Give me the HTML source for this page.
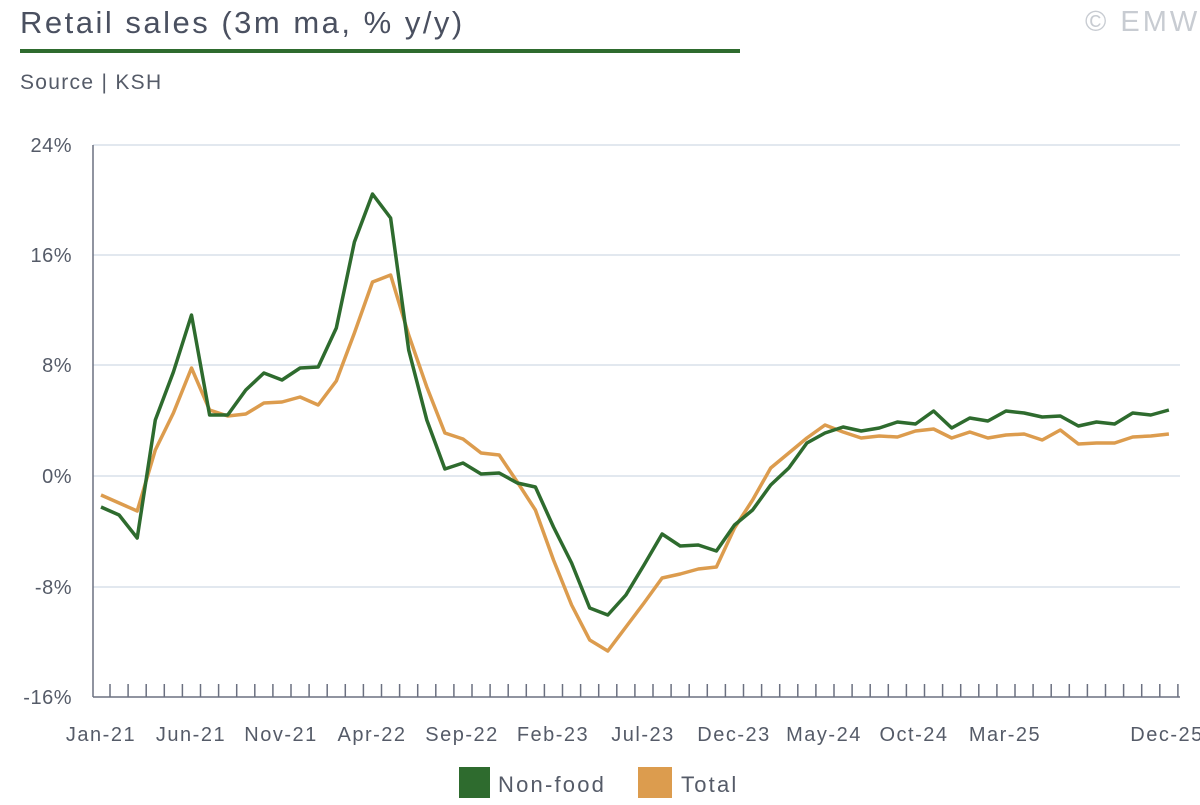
<!DOCTYPE html>
<html><head><meta charset="utf-8"><style>
body{margin:0;background:#fff;width:1200px;height:800px;overflow:hidden;font-family:"Liberation Sans",sans-serif;}
</style></head><body>
<svg width="1200" height="800" xmlns="http://www.w3.org/2000/svg" font-family="Liberation Sans, sans-serif">
<text x="20" y="33" font-size="31" fill="#4a5060" letter-spacing="2.5">Retail sales (3m ma, % y/y)</text>
<text x="1085" y="31" font-size="29" fill="#c8ccd2" letter-spacing="3">© EMW</text>
<rect x="20" y="49" width="720" height="4" fill="#2e6b2e"/>
<text x="20" y="89" font-size="21" fill="#555b68" letter-spacing="1.3">Source | KSH</text>
<g stroke="#d8e0ea" stroke-width="1.5">
<line x1="93" x2="1180" y1="145" y2="145"/><line x1="93" x2="1180" y1="255" y2="255"/>
<line x1="93" x2="1180" y1="365" y2="365"/><line x1="93" x2="1180" y1="476" y2="476"/>
<line x1="93" x2="1180" y1="587" y2="587"/>
</g>
<line x1="93" y1="145" x2="93" y2="697" stroke="#6b7080" stroke-width="1.5"/>
<line x1="93" y1="697" x2="1180" y2="697" stroke="#6b7080" stroke-width="1.5"/>
<g stroke="#6b7080" stroke-width="1.5" id="ticks"></g>
<g font-size="20" fill="#555b68" text-anchor="end" letter-spacing="0.5">
<text x="72" y="152">24%</text><text x="72" y="262">16%</text><text x="72" y="372">8%</text>
<text x="72" y="483">0%</text><text x="72" y="594">-8%</text><text x="72" y="704">-16%</text>
</g>
<g font-size="20" fill="#555b68" text-anchor="middle" letter-spacing="1.5">
<text x="101" y="741">Jan-21</text><text x="191" y="741">Jun-21</text><text x="281" y="741">Nov-21</text>
<text x="372" y="741">Apr-22</text><text x="462" y="741">Sep-22</text><text x="553" y="741">Feb-23</text>
<text x="643" y="741">Jul-23</text><text x="734" y="741">Dec-23</text><text x="824" y="741">May-24</text>
<text x="914" y="741">Oct-24</text><text x="1005" y="741">Mar-25</text><text x="1167" y="741">Dec-25</text>
</g>
<polyline id="tot" fill="none" stroke="#dc9c4e" stroke-width="3.5" stroke-linejoin="round"/>
<polyline id="nf" fill="none" stroke="#2e6b2e" stroke-width="3.5" stroke-linejoin="round"/>
<rect x="459" y="767" width="31" height="31" fill="#2e6b2e"/>
<text x="498" y="792" font-size="22" fill="#555b68" letter-spacing="2.2">Non-food</text>
<rect x="638" y="767" width="34" height="31" fill="#dc9c4e"/>
<text x="681" y="792" font-size="22" fill="#555b68" letter-spacing="2.2">Total</text>
</svg>
<script>
var nf=[507,515,538,420,372,315,415,415,390,373,380,368,367,328,242,194,218,350,420,469,463,474,473,483,487,527,563,608,615,595,565,534,546,545,551,525,510,485,468,443,433,427,431,428,422,424,411,428,418,421,411,413,417,416,426,422,424,413,415,410];
var tt=[495,503,511,450,413,368,410,416,414,403,402,397,405,381,333,282,275,335,387,433,439,453,455,482,510,560,605,640,651,627,603,578,574,569,567,528,500,468,453,438,425,432,438,436,437,431,429,438,432,438,435,434,440,430,444,443,443,437,436,434];
function pts(a){return a.map(function(y,i){return (101+i*18.1).toFixed(1)+","+y}).join(" ");}
document.getElementById("nf").setAttribute("points",pts(nf));
document.getElementById("tot").setAttribute("points",pts(tt));
var g=document.getElementById("ticks"),s="";
for(var i=0;i<60;i++){var x=(110+i*18.1).toFixed(1);s+='<line x1="'+x+'" x2="'+x+'" y1="684" y2="697"/>';}
g.innerHTML=s;
</script>
</body></html>
